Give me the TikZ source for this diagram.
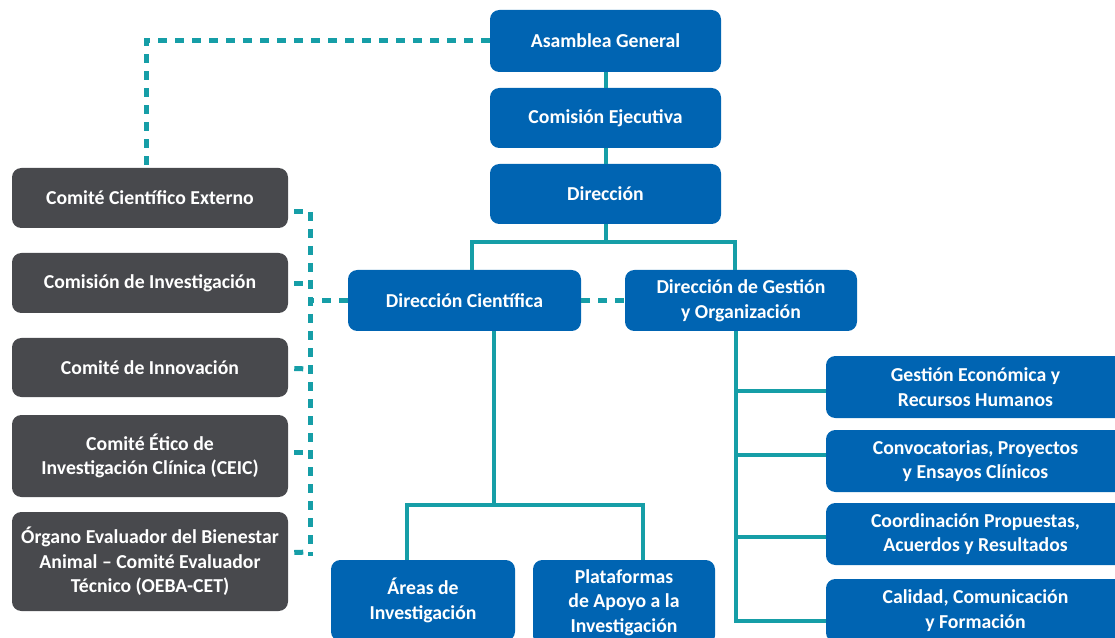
\documentclass[tikz,border=0pt]{standalone}
\usepackage{fontspec}
\setmainfont{Carlito}
\usetikzlibrary{calc}
\definecolor{boxblue}{RGB}{0,100,178}
\definecolor{boxgray}{RGB}{72,73,77}
\definecolor{teal}{RGB}{22,158,167}
\tikzset{
  bluebox/.style={draw=none,fill=boxblue,rounded corners=7pt,inner sep=0pt,text=white,
    font=\fontsize{14.8pt}{18.4pt}\selectfont\bfseries,align=center},
  graybox/.style={bluebox,fill=boxgray},
  conn/.style={draw=teal,line width=3pt},
  dashc/.style={draw=teal,line width=3.75pt,dash pattern=on 6.75pt off 6pt},
}
% box from corner (x1,y1) to (x2,y2) in pixel units
\newcommand\pbox[7]{%
  \node[#2,minimum width={(#5-#3)*0.75pt},minimum height={(#6-#4)*0.75pt}]
    (#1) at ({(#3+#5)/2},{(#4+#6)/2}) {#7};}
\begin{document}
\begin{tikzpicture}[x=0.75pt,y=-0.75pt]
\useasboundingbox (0,0) rectangle (1115,638);
\clip (0,0) rectangle (1115,638);
% coordinates
\coordinate (b1) at (472,242);
\coordinate (b2) at (735,242);
\coordinate (b3) at (494,505);
\coordinate (b4) at (407,505);
\coordinate (b5) at (643,505);
\coordinate (b6) at (736,621);
\coordinate (y1) at (0,391);
\coordinate (y2) at (0,455);
\coordinate (y3) at (0,537);
\coordinate (ca) at (146,0);
\coordinate (vx) at (310,0);
% boxes
\pbox{ag}{bluebox}{490}{10}{721}{72}{Asamblea General}
\pbox{ce}{bluebox}{490}{88}{721}{148}{Comisión Ejecutiva}
\pbox{dir}{bluebox}{490}{164}{721}{224}{Dirección}
\pbox{dc}{bluebox}{348}{270}{581}{331}{Dirección Científica}
\pbox{dgo}{bluebox}{625}{270}{857}{331}{Dirección de Gestión\\y Organización}
\pbox{g1}{graybox}{12}{168}{288}{228}{Comité Científico Externo}
\pbox{g2}{graybox}{12}{253}{288}{313}{Comisión de Investigación}
\pbox{g3}{graybox}{12}{338}{288}{397}{Comité de Innovación}
\pbox{g4}{graybox}{12}{415}{288}{497}{Comité Ético de\\Investigación Clínica (CEIC)}
\pbox{g5}{graybox}{12}{512}{288}{611}{Órgano Evaluador del Bienestar\\Animal – Comité Evaluador\\Técnico (OEBA-CET)}
\pbox{ai}{bluebox}{331}{560}{515}{641}{Áreas de\\Investigación}
\pbox{pl}{bluebox}{533}{560}{715}{645}{Plataformas\\de Apoyo a la\\Investigación}
\pbox{r1}{bluebox}{826}{356}{1125}{418}{Gestión Económica y\\Recursos Humanos}
\pbox{r2}{bluebox}{826}{430}{1125}{492}{Convocatorias, Proyectos\\y Ensayos Clínicos}
\pbox{r3}{bluebox}{826}{503}{1125}{565}{Coordinación Propuestas,\\Acuerdos y Resultados}
\pbox{r4}{bluebox}{826}{579}{1125}{642}{Calidad, Comunicación\\y Formación}
% solid connectors
\draw[conn] (ag) -- (ce);
\draw[conn] (ce) -- (dir);
\draw[conn] (dir.south) -- (dir.south |- b1);
\draw[conn] (dc.north -| b1) -- (b1) -- (b2) -- (dgo.north -| b2);
\draw[conn] (dc.south -| b3) -- (b3);
\draw[conn] (ai.north -| b4) -- (b4) -- (b5) -- (pl.north -| b5);
\draw[conn] (dgo.south -| b6) -- (b6) -- (r4.west |- b6);
\draw[conn] (b6 |- y1) -- (r1.west |- y1);
\draw[conn] (b6 |- y2) -- (r2.west |- y2);
\draw[conn] (b6 |- y3) -- (r3.west |- y3);
% dashed connectors
\draw[dashc] (ag.west) -| (g1.north -| ca);
\draw[dashc] (dc.east) -- (dgo.west);
\draw[dashc] (dc.west) -- (dc.west -| vx);
\draw[dashc] ($(vx)+(0,212)$) -- ($(vx)+(0,556)$);
\draw[dashc] ($(g1.east)+(6,14)$) -- ($(vx)+(0,212)$);
\draw[dashc] ($(g2.east)+(6,1)$) -- ($(vx)+(0,284)$);
\draw[dashc] ($(g3.east)+(6,1)$) -- ($(vx)+(0,369)$);
\draw[dashc] ($(g4.east)+(6,-4)$) -- ($(vx)+(0,452)$);
\draw[dashc] ($(g5.east)+(6,-9)$) -- ($(vx)+(0,552)$);
\end{tikzpicture}
\end{document}
